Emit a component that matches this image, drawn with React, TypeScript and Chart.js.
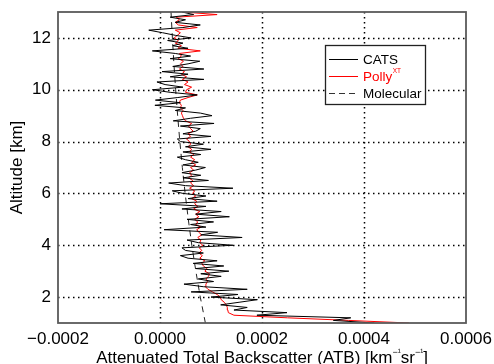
import React, { useEffect, useRef } from 'react';
import { Chart, registerables } from 'chart.js';

Chart.register(...registerables);

// Altitude grid of the lidar profiles (km), bottom to top
const ALT_START = 1.0;
const ALT_STEP = 0.1;

// CATS attenuated total backscatter, in units of 1e-4 km^-1 sr^-1 (1.0 km -> 13.0 km)
const catsAtb = [
  4.2, 3.4, 3.74, 1.9, 2.49, 1.45, 1.71, 1.19, 1.55, 1.91,
  1.0, 1.53, 0.61, 1.71, 0.85, 0.47, 1.05, 0.75, 1.2, 0.8,
  1.35, 0.7, 1.25, 0.65, 1.12, 0.55, 0.4, 0.85, 0.5, 0.43,
  1.43, 0.75, 0.53, 1.61, 0.8, 1.13, 0.08, 0.9, 0.6, 1.05,
  0.53, 1.36, 0.7, 1.2, 0.43, 0.9, 0.0, 1.12, 0.55, 0.9,
  0.45, 0.24, 1.43, 0.5, 0.17, 0.95, 0.45, 0.8, 0.43, 0.7,
  0.89, 0.45, 0.75, 0.5, 0.34, 0.8, 0.45, 1.0, 0.5, 0.85,
  0.4, 0.34, 1.0, 0.45, 0.7, 0.79, 0.4, 1.06, 0.26, 0.6,
  1.02, 0.79, 0.3, 0.5, -0.1, 0.4, -0.09, 0.35, 0.73, 0.2,
  -0.15, 0.45, 0.1, -0.06, 0.86, 0.2, 0.55, 0.04, 0.86, 0.25,
  0.55, 0.78, 0.2, 0.6, 0.3, -0.15, 0.55, 0.25, 0.45, 0.15,
  0.61, 0.3, 0.05, -0.22, 0.45, 0.79, 0.3, 0.5, 0.2, 0.66,
  0.43,
];

// PollyXT attenuated total backscatter, in units of 1e-4 km^-1 sr^-1 (1.0 km -> 13.0 km)
const pollyAtb = [
  4.88, 3.7, 2.5, 1.45, 1.34, 1.33, 1.32, 1.3, 1.26, 1.2,
  1.18, 1.12, 1.03, 0.94, 0.89, 0.9, 0.93, 0.9, 0.95, 0.97,
  0.88, 0.92, 0.85, 0.82, 0.88, 0.78, 0.83, 0.76, 0.82, 0.77,
  0.84, 0.78, 0.8, 0.74, 0.82, 0.76, 0.72, 0.8, 0.7, 0.74,
  0.68, 0.76, 0.7, 0.78, 0.66, 0.74, 0.68, 0.72, 0.62, 0.7,
  0.64, 0.68, 0.58, 0.66, 0.6, 0.64, 0.56, 0.62, 0.58, 0.66,
  0.6, 0.7, 0.62, 0.68, 0.6, 0.66, 0.58, 0.62, 0.55, 0.6,
  0.58, 0.52, 0.6, 0.55, 0.65, 0.6, 0.56, 0.62, 0.5, 0.46,
  0.44, 0.42, 0.45, 0.4, 0.42, 0.38, 0.4, 0.55, 0.73, 0.5,
  0.52, 0.62, 0.48, 0.55, 0.44, 0.52, 0.42, 0.48, 0.38, 0.45,
  0.4, 0.46, 0.36, 0.42, 0.38, 0.79, 0.35, 0.42, 0.3, 0.36,
  0.28, 0.34, 0.4, 0.3, 0.73, 0.36, 0.3, 0.38, 0.32, 1.12,
  0.45,
];

// Molecular attenuated backscatter
const molAlt = [1, 2, 3, 4, 5, 6, 7, 8, 9, 10, 11, 12, 13];
const molAtb = [0.89, 0.79, 0.703, 0.624, 0.555, 0.493, 0.438, 0.389, 0.346, 0.307, 0.273, 0.243, 0.216];

const UNIT = 1e-4;
const xTicks = [-0.0002, 0, 0.0002, 0.0004, 0.0006];
const yTicks = [2, 4, 6, 8, 10, 12];

const FONT = '"Liberation Sans", Arial, Helvetica, sans-serif';

const profileAlt = (n: number) => Array.from({ length: n }, (_, i) => +(ALT_START + i * ALT_STEP).toFixed(2));

const fmtX = (v: number) => {
  if (Math.abs(v) < 1e-12) return '0.0000';
  const s = Math.abs(v).toFixed(4);
  return v < 0 ? '\u2212' + s : s;
};

const decorPlugin = {
  id: 'decor',
  beforeDatasetsDraw(chart: any) {
    const { ctx, chartArea: a, scales } = chart;
    const xs = scales.x, ys = scales.y;
    ctx.save();
    ctx.strokeStyle = '#000';
    ctx.lineWidth = 1.5;
    ctx.setLineDash([1.5, 3.5]);
    xTicks.forEach((v) => {
      const px = Math.round(xs.getPixelForValue(v)) + 0.5;
      if (px > a.left + 2 && px < a.right - 2) {
        ctx.beginPath();
        ctx.moveTo(px, a.top);
        ctx.lineTo(px, a.bottom);
        ctx.stroke();
      }
    });
    yTicks.forEach((v) => {
      const py = Math.round(ys.getPixelForValue(v)) + 0.5;
      ctx.beginPath();
      ctx.moveTo(a.left, py);
      ctx.lineTo(a.right, py);
      ctx.stroke();
    });
    ctx.restore();
  },
  afterDraw(chart: any) {
    const { ctx, chartArea: a } = chart;
    ctx.save();
    // frame
    ctx.setLineDash([]);
    ctx.strokeStyle = '#5a5a5a';
    ctx.lineWidth = 1.8;
    ctx.strokeRect(a.left, a.top, a.right - a.left, a.bottom - a.top);

    // y title
    ctx.fillStyle = '#000';
    ctx.font = `17px ${FONT}`;
    ctx.textAlign = 'center';
    ctx.textBaseline = 'middle';
    ctx.save();
    ctx.translate(17, (a.top + a.bottom) / 2);
    ctx.rotate(-Math.PI / 2);
    ctx.fillText('Altitude [km]', 0, 0);
    ctx.restore();

    // x title with superscripts
    const parts: [string, boolean][] = [
      ['Attenuated Total Backscatter (ATB) [km', false],
      ['\u2212\u00B9', true],
      ['sr', false],
      ['\u2212\u00B9', true],
      [']', false],
    ];
    const big = `17px ${FONT}`;
    const small = `9px ${FONT}`;
    let total = 0;
    parts.forEach(([t, sup]) => {
      ctx.font = sup ? small : big;
      total += ctx.measureText(t).width;
    });
    let x = (a.left + a.right) / 2 - total / 2;
    const base = 363;
    ctx.textAlign = 'left';
    ctx.textBaseline = 'alphabetic';
    parts.forEach(([t, sup]) => {
      ctx.font = sup ? small : big;
      ctx.fillText(t, x, sup ? base - 8 : base);
      x += ctx.measureText(t).width;
    });

    // legend
    const lx = a.right - 141;
    const ly = a.top + 33;
    const lw = 100;
    const lh = 59;
    ctx.fillStyle = '#fff';
    ctx.fillRect(lx, ly, lw, lh);
    ctx.strokeStyle = '#222';
    ctx.lineWidth = 1.3;
    ctx.strokeRect(lx + 0.5, ly + 0.5, lw, lh);
    const rows = [
      { label: 'CATS', color: '#000', textColor: '#000', dash: [] as number[], sup: '' },
      { label: 'Polly', color: '#ff0000', textColor: '#ff0000', dash: [] as number[], sup: 'XT' },
      { label: 'Molecular', color: '#333', textColor: '#000', dash: [6, 4], sup: '' },
    ];
    rows.forEach((r, i) => {
      const yy = ly + 14 + i * 17;
      ctx.strokeStyle = r.color;
      ctx.lineWidth = 1;
      ctx.setLineDash(r.dash);
      ctx.beginPath();
      ctx.moveTo(lx + 4, yy + 0.5);
      ctx.lineTo(lx + 33, yy + 0.5);
      ctx.stroke();
      ctx.setLineDash([]);
      ctx.fillStyle = r.textColor;
      ctx.font = `13.5px ${FONT}`;
      ctx.textBaseline = 'middle';
      ctx.fillText(r.label, lx + 38, yy + 1);
      if (r.sup) {
        const w = ctx.measureText(r.label).width;
        ctx.font = `6.5px ${FONT}`;
        ctx.fillText(r.sup, lx + 38 + w + 0.5, yy - 5);
      }
    });
    ctx.restore();
  },
};

export default function App() {
  const ref = useRef<HTMLCanvasElement | null>(null);
  useEffect(() => {
    if (!ref.current) return;
    const catsAlt = profileAlt(catsAtb.length);
    const pollyAlt = profileAlt(pollyAtb.length);
    const chart = new Chart(ref.current, {
      type: 'scatter',
      data: {
        datasets: [
          {
            label: 'CATS',
            data: catsAtb.map((v, i) => ({ x: v * UNIT, y: catsAlt[i] })),
            showLine: true,
            borderColor: '#000',
            borderWidth: 1,
            pointRadius: 0,
            tension: 0,
          },
          {
            label: 'PollyXT',
            data: pollyAtb.map((v, i) => ({ x: v * UNIT, y: pollyAlt[i] })),
            showLine: true,
            borderColor: '#ff0000',
            borderWidth: 1,
            pointRadius: 0,
            tension: 0,
          },
          {
            label: 'Molecular',
            data: molAtb.map((v, i) => ({ x: v * UNIT, y: molAlt[i] })),
            showLine: true,
            borderColor: '#222',
            borderWidth: 1,
            borderDash: [6, 5],
            pointRadius: 0,
            tension: 0,
          },
        ],
      },
      options: {
        animation: false,
        responsive: false,
        maintainAspectRatio: false,
        layout: { padding: { top: 12, right: 28, left: 0, bottom: 0 } },
        plugins: { legend: { display: false }, tooltip: { enabled: false } },
        scales: {
          x: {
            type: 'linear',
            min: -0.0002,
            max: 0.0006,
            afterBuildTicks: (s: any) => { s.ticks = xTicks.map((v) => ({ value: v })); },
            afterFit: (s: any) => { s.height = 41; s.paddingLeft = 0; s.paddingRight = 0; },
            grid: { display: false, drawTicks: false },
            border: { display: false },
            ticks: {
              color: '#000',
              font: { family: FONT, size: 17 },
              padding: 6,
              maxRotation: 0,
              autoSkip: false,
              callback: (v: any) => fmtX(Number(v)),
            },
          },
          y: {
            type: 'linear',
            min: 1,
            max: 13,
            afterBuildTicks: (s: any) => { s.ticks = yTicks.map((v) => ({ value: v })); },
            afterFit: (s: any) => { s.width = 58; s.paddingTop = 0; s.paddingBottom = 0; },
            grid: { display: false, drawTicks: false },
            border: { display: false },
            ticks: {
              color: '#000',
              font: { family: FONT, size: 17 },
              padding: 7,
              autoSkip: false,
              callback: (v: any) => String(v),
            },
          },
        },
      },
      plugins: [decorPlugin],
    });
    return () => chart.destroy();
  }, []);
  return (
    <div style={{ position: 'fixed', left: 0, top: 0, width: 494, height: 364, background: '#fff' }}>
      <canvas ref={ref} width={494} height={364} style={{ width: 494, height: 364, display: 'block' }} />
    </div>
  );
}
